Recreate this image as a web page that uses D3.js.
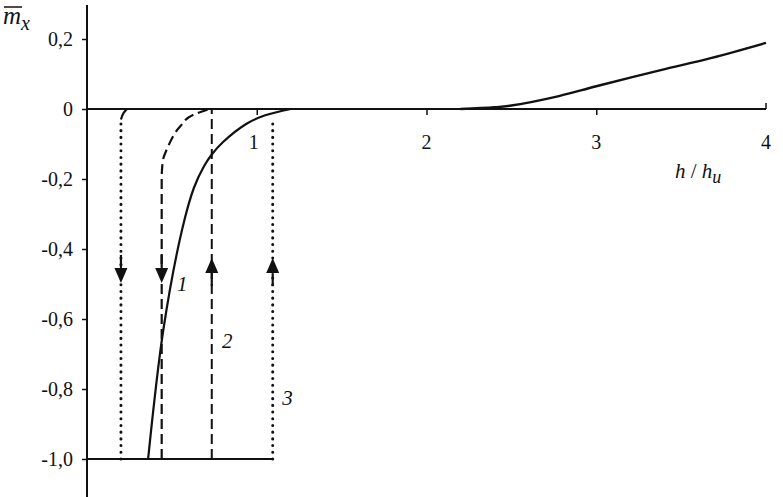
<!DOCTYPE html>
<html>
<head>
<meta charset="utf-8">
<script src="https://cdn.jsdelivr.net/npm/d3@7"></script>
<style>
  body { margin: 0; background: #fff; }
</style>
</head>
<body>
<div id="chart"></div>
<script>
// data
var xTicks = [1, 2, 3, 4];
var yTicks = [0.2, 0, -0.2, -0.4, -0.6, -0.8, -1.0];

// curve 1 (solid), low field branch
var curve1 = [[0.36, -1.0], [0.45, -0.63], [0.56, -0.345], [0.63, -0.225], [0.69, -0.163],
              [0.735, -0.13], [0.80, -0.095], [0.94, -0.042], [1.05, -0.018], [1.2, 0]];
// curve 1, high field branch
var curve1b = [[2.2, 0], [2.4, 0.005], [2.5, 0.01], [2.78, 0.037], [3.0, 0.065],
               [3.38, 0.111], [3.68, 0.146], [4.0, 0.189]];
// curve 2 (dashed)
var curve2 = [[0.44, -1.0], [0.44, -0.2], [0.446, -0.15], [0.476, -0.109], [0.547, -0.051],
              [0.624, -0.017], [0.724, 0]];
// curve 3 (dotted) stub near the top
var curve3 = [[0.2, -0.03], [0.215, -0.012], [0.235, 0]];

var dashedLines = [0.735];
var dottedLines = [[0.2, -0.03], [1.094, -0.03]];
var arrowsDown = [0.2, 0.44];
var arrowsUp = [0.735, 1.094];
var arrowDownTip = -0.497;
var arrowUpTip = -0.426;
var bottomEnd = 1.094;

var curveLabels = [["1", 0.53, -0.52], ["2", 0.795, -0.682], ["3", 1.15, -0.845]];

/*
 * layout
 */
var W = 783, H = 497;
var font = "'Liberation Serif', 'DejaVu Sans', sans-serif";
var svg = d3.select("#chart").append("svg")
    .attr("width", W)
    .attr("height", H);

var x = d3.scaleLinear().domain([0, 4]).range([87, 766]);
var y = d3.scaleLinear().domain([-1, 0.2]).range([459, 39]);

var line = d3.line()
    .x(function(d) { return x(d[0]); })
    .y(function(d) { return y(d[1]); });

var fmt = function(d) {
    if (d === 0) return "0";
    return d3.format(".1f")(d).replace(".", ",").replace("\u2212", "-");
};

// y axis
svg.append("line")
    .attr("x1", x(0)).attr("x2", x(0))
    .attr("y1", 5).attr("y2", H)
    .attr("stroke", "#111").attr("stroke-width", 2);

var yAxis = svg.append("g")
    .attr("transform", "translate(" + x(0) + ",0)")
    .call(d3.axisLeft(y).tickValues(yTicks).tickSize(5).tickFormat(""));
yAxis.select(".domain").remove();
yAxis.selectAll(".tick line").attr("stroke", "#111").attr("stroke-width", 1.5);

svg.selectAll(".ylab")
    .data(yTicks)
    .enter().append("text")
    .attr("class", "ylab")
    .style("font-family", font)
    .attr("x", 73)
    .attr("y", function(d) { return y(d) + 7; })
    .attr("text-anchor", "end")
    .attr("font-size", 20)
    .attr("fill", "#111")
    .text(fmt);

// x axis along m = 0
svg.append("line")
    .attr("x1", x(0)).attr("x2", x(4))
    .attr("y1", y(0)).attr("y2", y(0))
    .attr("stroke", "#111").attr("stroke-width", 2);

var xAxis = svg.append("g")
    .attr("transform", "translate(0," + y(0) + ")")
    .call(d3.axisBottom(x).tickValues(xTicks.slice(0, 3)).tickSize(6).tickFormat(""));
xAxis.select(".domain").remove();
xAxis.selectAll(".tick line").attr("stroke", "#111").attr("stroke-width", 1.5);

svg.append("line")
    .attr("x1", x(4)).attr("x2", x(4))
    .attr("y1", y(0)).attr("y2", y(0) - 6)
    .attr("stroke", "#111").attr("stroke-width", 1.5);

svg.selectAll(".xlab")
    .data(xTicks)
    .enter().append("text")
    .attr("class", "xlab")
    .style("font-family", font)
    .attr("x", function(d) { return x(d) - (d === 1 ? 3 : 0); })
    .attr("y", y(0) + 40)
    .attr("text-anchor", "middle")
    .attr("font-size", 20)
    .attr("fill", "#111")
    .text(function(d) { return d; });

// bottom line at m = -1
svg.append("line")
    .attr("x1", x(0)).attr("x2", x(bottomEnd))
    .attr("y1", y(-1)).attr("y2", y(-1))
    .attr("stroke", "#111").attr("stroke-width", 2);

// vertical guides
svg.selectAll(".dashv")
    .data(dashedLines)
    .enter().append("line")
    .attr("x1", x).attr("x2", x)
    .attr("y1", y(-1)).attr("y2", y(0))
    .attr("stroke", "#111").attr("stroke-width", 2)
    .attr("stroke-dasharray", "10,5");

svg.selectAll(".dotv")
    .data(dottedLines)
    .enter().append("line")
    .attr("x1", function(d) { return x(d[0]); })
    .attr("x2", function(d) { return x(d[0]); })
    .attr("y1", y(-1)).attr("y2", function(d) { return y(d[1]); })
    .attr("stroke", "#111").attr("stroke-width", 3)
    .attr("stroke-linecap", "round")
    .attr("stroke-dasharray", "0.1,6.6");

// curves
svg.append("path")
    .datum(curve1)
    .attr("d", line.curve(d3.curveCatmullRom.alpha(0.5)))
    .attr("fill", "none").attr("stroke", "#111").attr("stroke-width", 2.2);

svg.append("path")
    .datum(curve1b)
    .attr("d", line.curve(d3.curveCatmullRom.alpha(0.5)))
    .attr("fill", "none").attr("stroke", "#111").attr("stroke-width", 2.4);

svg.append("path")
    .datum(curve2)
    .attr("d", line.curve(d3.curveMonotoneY))
    .attr("fill", "none").attr("stroke", "#111").attr("stroke-width", 2.2)
    .attr("stroke-dasharray", "10,5");

svg.append("path")
    .datum(curve3)
    .attr("d", line.curve(d3.curveMonotoneY))
    .attr("fill", "none").attr("stroke", "#111").attr("stroke-width", 2.2);

// arrows
function arrow(g, xv, tipM, dir) {
    var tx = x(xv), ty = y(tipM);
    var hl = 15 * dir, hw = 6.5;
    g.append("line")
        .attr("x1", tx).attr("x2", tx)
        .attr("y1", ty - hl).attr("y2", ty - hl - 13 * dir)
        .attr("stroke", "#111").attr("stroke-width", 2.2);
    g.append("path")
        .attr("d", "M" + tx + "," + ty + "L" + (tx - hw) + "," + (ty - hl) + "L" + (tx + hw) + "," + (ty - hl) + "Z")
        .attr("fill", "#111");
}
var ga = svg.append("g");
arrowsDown.forEach(function(v) { arrow(ga, v, arrowDownTip, 1); });
arrowsUp.forEach(function(v) { arrow(ga, v, arrowUpTip, -1); });

// curve numbers
svg.selectAll(".clab")
    .data(curveLabels)
    .enter().append("text")
    .style("font-family", font)
    .attr("x", function(d) { return x(d[1]); })
    .attr("y", function(d) { return y(d[2]); })
    .attr("font-size", 21)
    .attr("font-style", "italic")
    .attr("fill", "#111")
    .text(function(d) { return d[0]; });

// axis titles
var yt = svg.append("text")
    .style("font-family", font)
    .attr("x", 3).attr("y", 24)
    .attr("fill", "#111")
    .attr("font-style", "italic");
yt.append("tspan").attr("font-size", 25).text("m");
yt.append("tspan").attr("font-size", 20).attr("dy", 6).text("x");
svg.append("line")
    .attr("x1", 4).attr("x2", 22)
    .attr("y1", 7).attr("y2", 7)
    .attr("stroke", "#111").attr("stroke-width", 1.5);

var xt = svg.append("text")
    .style("font-family", font)
    .attr("x", 675).attr("y", 178)
    .attr("fill", "#111")
    .attr("font-style", "italic")
    .attr("font-size", 21);
xt.append("tspan").text("h");
xt.append("tspan").attr("font-style", "normal").text(" / ");
xt.append("tspan").text("h");
xt.append("tspan").attr("font-size", 18).attr("dy", 5).text("u");
</script>
</body>
</html>
